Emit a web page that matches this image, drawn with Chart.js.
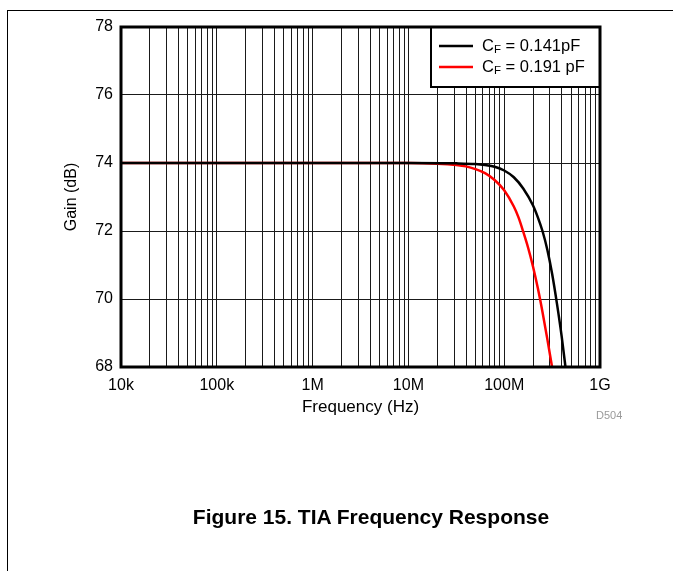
<!DOCTYPE html>
<html>
<head>
<meta charset="utf-8">
<script src="https://cdn.jsdelivr.net/npm/chart.js@4/dist/chart.umd.min.js"></script>
<style>
  body { margin: 0; background: #fff; font-family: 'Liberation Sans', Arial, sans-serif; }
  #page { position: relative; width: 673px; height: 571px; overflow: hidden; }
  #frame { position: absolute; left: 7px; top: 10px; right: 0; bottom: 0; border-top: 1px solid #000; border-left: 1px solid #000; }
  #chart { position: absolute; left: 0; top: 0; }
  #code { position: absolute; left: 596px; top: 409px; font-size: 11px; color: #9a9a9a; }
  #caption { position: absolute; left: 0; width: 742px; top: 505px; text-align: center; font-size: 21px; font-weight: bold; color: #000; }
</style>
</head>
<body>
<div id="page">
  <div id="frame"></div>
  <canvas id="chart" width="673" height="571"></canvas>
  <div id="code">D504</div>
  <div id="caption">Figure 15. TIA Frequency Response</div>
</div>
<script>
// axis ticks
const xDecades = [1e4, 1e5, 1e6, 1e7, 1e8, 1e9];
const xTickLabels = ['10k', '100k', '1M', '10M', '100M', '1G'];
const yTicks = [68, 70, 72, 74, 76, 78];

// C_F = 0.141pF (black)
const freqA = [1e4, 1e6, 1e7, 3.16e7, 5.01e7, 6.31e7, 7.94e7, 1e8, 1.26e8, 1.58e8, 2.0e8, 2.24e8, 2.51e8, 2.82e8, 3.16e8, 3.55e8, 3.98e8, 4.47e8];
const gainA = [74.0, 74.0, 74.0, 73.99, 73.97, 73.94, 73.89, 73.78, 73.58, 73.25, 72.75, 72.41, 72.0, 71.45, 70.75, 69.87, 68.9, 67.75];

// C_F = 0.191 pF (red)
const freqB = [1e4, 1e6, 1e7, 2.0e7, 3.16e7, 3.98e7, 5.01e7, 6.31e7, 7.94e7, 1e8, 1.26e8, 1.41e8, 1.58e8, 1.78e8, 2.0e8, 2.24e8, 2.51e8, 2.82e8, 3.16e8, 3.55e8];
const gainB = [74.0, 74.0, 74.0, 73.98, 73.94, 73.9, 73.82, 73.7, 73.5, 73.2, 72.72, 72.4, 71.98, 71.5, 70.95, 70.33, 69.62, 68.82, 68.0, 67.1];

const legendSub = 'F';
const legendValues = [' = 0.141pF', ' = 0.191 pF'];
const seriesColors = ['#000000', '#ff0000'];

const FONT = "'Liberation Sans', Arial, sans-serif";

const toPoints = (xs, ys) => xs.map((x, i) => ({ x: x, y: ys[i] }));

// every 1..9 multiple in each decade -> grid lines
const gridValues = [];
for (let d = 0; d < xDecades.length - 1; d++) {
  for (let m = 1; m <= 9; m++) gridValues.push(xDecades[d] * m);
}
gridValues.push(xDecades[xDecades.length - 1]);

// box frame + legend on top of the plot
const framePlugin = {
  id: 'frameAndLegend',
  afterDatasetsDraw(chart) {
    const { ctx, chartArea: a } = chart;
    ctx.save();

    // legend box
    const bx = 431, by = a.top, bw = a.right - bx, bh = 60;
    ctx.fillStyle = '#fff';
    ctx.fillRect(bx, by, bw, bh);
    ctx.strokeStyle = '#000';
    ctx.lineWidth = 2;
    ctx.strokeRect(bx, by, bw, bh);

    legendValues.forEach((txt, i) => {
      const y = by + 19 + i * 21;
      ctx.strokeStyle = seriesColors[i];
      ctx.lineWidth = 2.5;
      ctx.beginPath();
      ctx.moveTo(439, y);
      ctx.lineTo(473, y);
      ctx.stroke();

      ctx.fillStyle = '#000';
      ctx.textBaseline = 'middle';
      ctx.font = '16.5px ' + FONT;
      let x = 482;
      ctx.fillText('C', x, y);
      x += ctx.measureText('C').width;
      ctx.font = '11.5px ' + FONT;
      ctx.fillText(legendSub, x, y + 4);
      x += ctx.measureText(legendSub).width;
      ctx.font = '16.5px ' + FONT;
      ctx.fillText(txt, x, y);
    });

    // plot frame
    ctx.strokeStyle = '#000';
    ctx.lineWidth = 3;
    ctx.strokeRect(a.left, a.top, a.right - a.left, a.bottom - a.top);
    ctx.restore();
  }
};

new Chart(document.getElementById('chart'), {
  type: 'scatter',
  data: {
    datasets: [
      {
        label: 'CF = 0.141pF',
        data: toPoints(freqA, gainA),
        showLine: true,
        borderColor: seriesColors[0],
        borderWidth: 2.5,
        pointRadius: 0,
        cubicInterpolationMode: 'monotone'
      },
      {
        label: 'CF = 0.191 pF',
        data: toPoints(freqB, gainB),
        showLine: true,
        borderColor: seriesColors[1],
        borderWidth: 2.5,
        pointRadius: 0,
        cubicInterpolationMode: 'monotone'
      }
    ]
  },
  options: {
    responsive: false,
    animation: false,
    events: [],
    layout: { padding: { left: 58, top: 27, right: 73, bottom: 149 } },
    plugins: {
      legend: { display: false },
      tooltip: { enabled: false }
    },
    scales: {
      x: {
        type: 'logarithmic',
        min: 1e4,
        max: 1e9,
        afterBuildTicks: (scale) => {
          scale.ticks = gridValues.map(v => ({ value: v }));
        },
        afterFit: (scale) => { scale.height = 55; },
        grid: { color: '#1a1a1a', lineWidth: 1, drawTicks: false },
        border: { display: false },
        ticks: {
          autoSkip: false,
          maxRotation: 0,
          padding: 9,
          color: '#000',
          font: { family: FONT, size: 16 },
          callback: function (value) {
            const i = xDecades.findIndex(d => Math.abs(d - value) / d < 1e-6);
            return i >= 0 ? xTickLabels[i] : '';
          }
        },
        title: {
          display: true,
          text: 'Frequency (Hz)',
          color: '#000',
          font: { family: FONT, size: 17 }
        }
      },
      y: {
        min: 68,
        max: 78,
        afterBuildTicks: (scale) => {
          scale.ticks = yTicks.map(v => ({ value: v }));
        },
        afterFit: (scale) => { scale.width = 63; },
        grid: { color: '#1a1a1a', lineWidth: 1, drawTicks: false },
        border: { display: false },
        ticks: {
          padding: 8,
          color: '#000',
          font: { family: FONT, size: 16 }
        },
        title: {
          display: true,
          text: 'Gain (dB)',
          color: '#000',
          font: { family: FONT, size: 16 }
        }
      }
    }
  },
  plugins: [framePlugin]
});
</script>
</body>
</html>
